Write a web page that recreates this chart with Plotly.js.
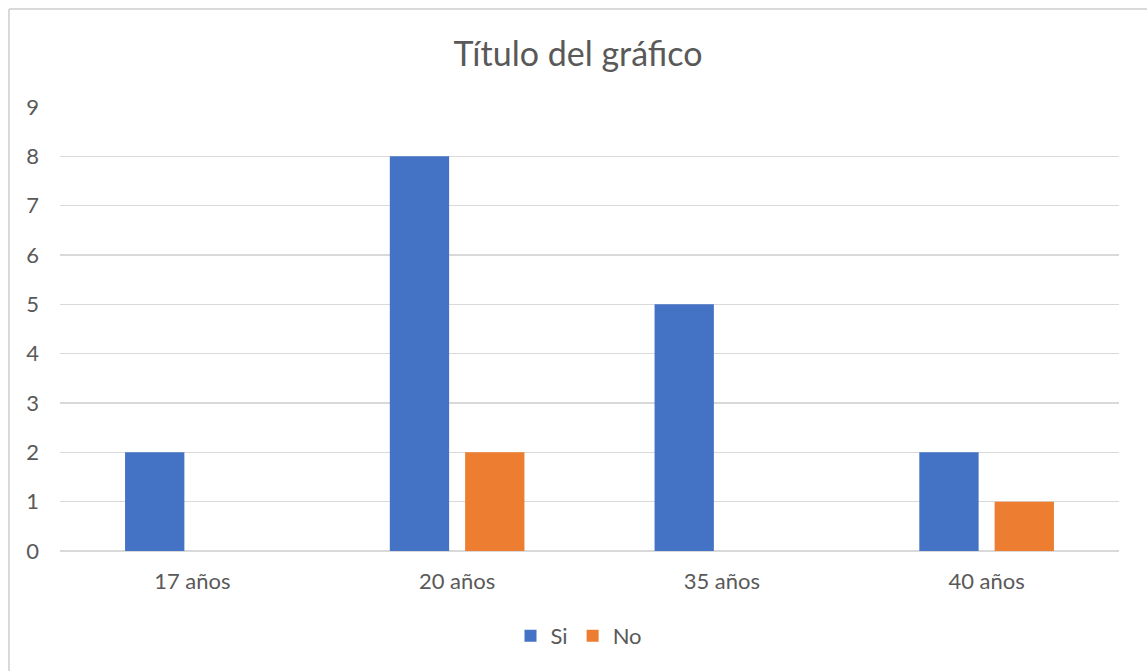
<!DOCTYPE html>
<html>
<head>
<meta charset="utf-8">
<script src="https://cdn.plot.ly/plotly-3.0.1.min.js"></script>
<style>html,body{margin:0;padding:0;background:#fff;}#chart{width:1147px;height:671px;}</style>
</head>
<body>
<div id="chart"></div>
<script>
const categories = ["17 años", "20 años", "35 años", "40 años"];
const siValues = [2, 8, 5, 2];
const noValues = [0, 2, 0, 1];
const yTicks = [0, 1, 2, 3, 4, 5, 6, 7, 8, 9];

const W = 1147, H = 671;
const M = {l: 60, r: 28, t: 107, b: 120};
const pw = W - M.l - M.r, ph = H - M.t - M.b;
const px = x => (x - M.l) / pw;
const py = y => (H - M.b - y) / ph;

const font = "Lato, 'Open Sans', sans-serif";
const txt = "#595959";

const traces = [
  {type: "bar", name: "Si", x: categories, y: siValues, marker: {color: "#4472C4"}},
  {type: "bar", name: "No", x: categories, y: noValues, marker: {color: "#ED7D31"}}
];

const layout = {
  width: W, height: H,
  margin: M,
  paper_bgcolor: "#fff", plot_bgcolor: "#fff",
  font: {family: font, size: 22, color: txt},
  title: {text: "Título del gráfico", font: {family: font, size: 34, color: txt}, xref: "container", x: 578 / W, xanchor: "center", y: 1 - 54 / H, yanchor: "middle"},
  barmode: "group",
  bargap: 0.431,
  bargroupgap: 0.2125,
  showlegend: true,
  legend: {orientation: "h", x: px(579), xanchor: "center", y: py(636), yanchor: "middle", font: {family: font, size: 22, color: txt}, itemwidth: 30, tracegroupgap: 0},
  xaxis: {type: "category", showgrid: false, zeroline: false, showline: false, ticks: "", tickfont: {family: font, size: 22, color: txt}, ticklabelstandoff: 15},
  yaxis: {range: [0, 9], tickvals: yTicks, ticktext: yTicks.map(String), showgrid: true, gridcolor: "#D9D9D9", gridwidth: 1.5, zeroline: true, zerolinecolor: "#D9D9D9", zerolinewidth: 1.5, showline: false, ticks: "", tickfont: {family: font, size: 22, color: txt}, ticklabelstandoff: 20, fixedrange: true},
  shapes: [
    {type: "line", xref: "paper", yref: "paper", x0: px(9), x1: px(1147), y0: py(9), y1: py(9), line: {color: "#D9D9D9", width: 2}},
    {type: "line", xref: "paper", yref: "paper", x0: px(9), x1: px(9), y0: py(9), y1: py(671), line: {color: "#D9D9D9", width: 2}}
  ]
};

Plotly.newPlot("chart", traces, layout, {displayModeBar: false, staticPlot: true});
</script>
</body>
</html>
